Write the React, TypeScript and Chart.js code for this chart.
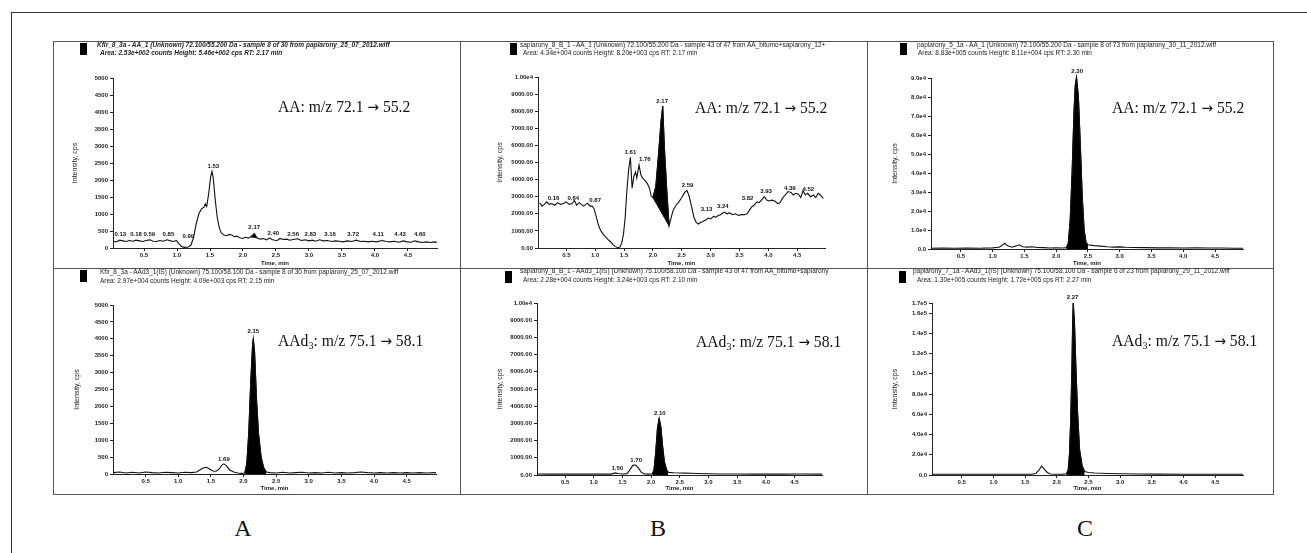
import React, { useEffect, useRef } from "react";
import { Chart, registerables } from "chart.js";

Chart.register(...registerables);

type Pair = [number, number];
type PeakLabel = [string, number, number];

// ---------- axis ticks ----------
const xTicks = [0.5, 1.0, 1.5, 2.0, 2.5, 3.0, 3.5, 4.0, 4.5];
const xTickLabels = ["0.5", "1.0", "1.5", "2.0", "2.5", "3.0", "3.5", "4.0", "4.5"];

const yTicksA = [0, 500, 1000, 1500, 2000, 2500, 3000, 3500, 4000, 4500, 5000];
const yTickLabelsA = ["0", "500", "1000", "1500", "2000", "2500", "3000", "3500", "4000", "4500", "5000"];

const yTicksB = [0, 1000, 2000, 3000, 4000, 5000, 6000, 7000, 8000, 9000, 10000];
const yTickLabelsB = ["0.00", "1000.00", "2000.00", "3000.00", "4000.00", "5000.00", "6000.00", "7000.00", "8000.00", "9000.00", "1.00e4"];

const yTicksC1 = [0, 10000, 20000, 30000, 40000, 50000, 60000, 70000, 80000, 90000];
const yTickLabelsC1 = ["0.0", "1.0e4", "2.0e4", "3.0e4", "4.0e4", "5.0e4", "6.0e4", "7.0e4", "8.0e4", "9.0e4"];

const yTicksC2 = [0, 20000, 40000, 60000, 80000, 100000, 120000, 140000, 160000, 170000];
const yTickLabelsC2 = ["0.0", "2.0e4", "4.0e4", "6.0e4", "8.0e4", "1.0e5", "1.2e5", "1.4e5", "1.6e5", "1.7e5"];

// ---------- traces (time min, intensity cps) ----------
const traceA1: Pair[] = [
  [0.03, 200], [0.08, 180], [0.13, 230], [0.18, 210], [0.23, 190], [0.28, 220], [0.33, 200], [0.38, 230],
  [0.43, 210], [0.48, 190], [0.53, 220], [0.59, 240], [0.64, 200], [0.69, 190], [0.74, 220], [0.79, 200],
  [0.85, 240], [0.90, 210], [0.95, 190], [0.99, 220], [1.03, 120], [1.07, 40], [1.12, 20], [1.17, 30],
  [1.21, 80], [1.25, 300], [1.29, 700], [1.33, 1000], [1.37, 1150], [1.41, 1200], [1.43, 1300], [1.45, 1220],
  [1.48, 1600], [1.51, 2100], [1.53, 2250], [1.55, 2050], [1.58, 1400], [1.61, 900], [1.64, 600], [1.67, 450],
  [1.71, 380], [1.75, 360], [1.79, 400], [1.83, 380], [1.87, 330], [1.91, 350], [1.95, 300], [2.00, 280],
  [2.04, 320], [2.08, 290], [2.12, 330], [2.17, 420], [2.21, 300], [2.26, 260], [2.31, 280], [2.36, 240],
  [2.40, 300], [2.44, 250], [2.48, 230], [2.52, 220], [2.56, 280], [2.61, 250], [2.66, 260], [2.71, 230],
  [2.76, 250], [2.83, 270], [2.88, 220], [2.94, 240], [3.00, 210], [3.05, 230], [3.10, 200], [3.16, 240],
  [3.22, 210], [3.28, 220], [3.34, 190], [3.40, 210], [3.46, 200], [3.52, 180], [3.58, 210], [3.65, 190],
  [3.72, 230], [3.78, 190], [3.84, 200], [3.90, 180], [3.96, 200], [4.02, 180], [4.11, 220], [4.17, 190],
  [4.23, 180], [4.29, 200], [4.36, 170], [4.43, 210], [4.49, 180], [4.55, 170], [4.60, 210], [4.66, 180],
  [4.72, 160], [4.78, 180], [4.84, 160], [4.90, 180], [4.94, 170],
];
const labelsA1: PeakLabel[] = [
  ["0.13", 0.14, 392], ["0.18", 0.38, 392], ["0.59", 0.58, 392], ["0.85", 0.87, 392], ["0.99", 1.17, 343],
  ["1.53", 1.55, 2400], ["2.17", 2.17, 608], ["2.40", 2.46, 441], ["2.56", 2.76, 392], ["2.83", 3.02, 392],
  ["3.16", 3.32, 392], ["3.72", 3.67, 392], ["4.11", 4.05, 392], ["4.43", 4.38, 392], ["4.60", 4.68, 392],
];

const traceB1: Pair[] = [
  [0.04, 2650], [0.08, 2450], [0.12, 2550], [0.16, 2700], [0.20, 2550], [0.25, 2600], [0.30, 2500], [0.35, 2650],
  [0.40, 2550], [0.45, 2600], [0.50, 2700], [0.55, 2550], [0.60, 2600], [0.64, 2780], [0.68, 2500], [0.72, 2650],
  [0.76, 2550], [0.80, 2450], [0.84, 2550], [0.87, 2620], [0.91, 2450], [0.95, 2450], [0.98, 2300], [1.02, 1800],
  [1.06, 1300], [1.10, 1000], [1.14, 800], [1.18, 650], [1.22, 500], [1.27, 350], [1.31, 200], [1.35, 80],
  [1.39, 20], [1.43, 60], [1.46, 300], [1.49, 800], [1.52, 1800], [1.55, 3400], [1.58, 4600], [1.61, 5300],
  [1.64, 3500], [1.67, 4200], [1.70, 4450], [1.72, 4100], [1.76, 4850], [1.79, 4300], [1.82, 4100], [1.86, 3950],
  [1.90, 3800], [1.94, 3500], [1.97, 3050], [2.00, 2950], [2.05, 3600], [2.10, 5600], [2.14, 7400], [2.17, 8300],
  [2.20, 5800], [2.24, 3400], [2.28, 1300], [2.31, 1700], [2.35, 2200], [2.40, 2500], [2.45, 2700], [2.50, 2950],
  [2.55, 3250], [2.59, 3370], [2.63, 3000], [2.67, 2400], [2.71, 1800], [2.75, 1500], [2.79, 1400], [2.83, 1500],
  [2.87, 1550], [2.92, 1650], [2.96, 1750], [3.00, 1700], [3.05, 1850], [3.09, 1800], [3.13, 1900], [3.17, 1950],
  [3.21, 2050], [3.24, 2100], [3.28, 2000], [3.33, 2050], [3.38, 1950], [3.43, 2000], [3.48, 1900], [3.53, 1950],
  [3.58, 1950], [3.63, 2000], [3.67, 2200], [3.71, 2400], [3.75, 2500], [3.80, 2700], [3.84, 2650], [3.88, 2800],
  [3.93, 3000], [3.97, 2800], [4.01, 2750], [4.06, 2800], [4.11, 2750], [4.16, 2600], [4.20, 2650], [4.24, 2900],
  [4.29, 3100], [4.34, 3300], [4.39, 3250], [4.43, 3100], [4.47, 3200], [4.52, 3150], [4.56, 2950], [4.60, 3350],
  [4.64, 3100], [4.68, 3200], [4.73, 3000], [4.78, 3100], [4.82, 2950], [4.86, 3200], [4.90, 3100], [4.95, 2900],
];
const labelsB1: PeakLabel[] = [
  ["0.16", 0.28, 2924], ["0.64", 0.62, 2924], ["0.87", 1.0, 2790], ["1.61", 1.61, 5614], ["1.76", 1.86, 5166],
  ["2.17", 2.16, 8577], ["2.59", 2.6, 3665], ["3.13", 2.93, 2242], ["3.24", 3.21, 2437], ["3.82", 3.64, 2924],
  ["3.93", 3.96, 3314], ["4.39", 4.37, 3509], ["4.52", 4.69, 3411],
];

const traceC1: Pair[] = [
  [0.03, 400], [0.2, 500], [0.4, 400], [0.6, 500], [0.8, 400], [1.0, 600], [1.1, 900], [1.15, 2000],
  [1.19, 3000], [1.23, 1800], [1.3, 900], [1.36, 1500], [1.42, 2200], [1.47, 1200], [1.55, 1000], [1.62, 1200],
  [1.7, 800], [1.8, 700], [1.9, 500], [2.0, 600], [2.1, 500], [2.16, 700], [2.19, 3000], [2.22, 15000],
  [2.25, 40000], [2.28, 72000], [2.30, 86000], [2.32, 90500], [2.35, 80000], [2.38, 55000], [2.41, 28000],
  [2.44, 10000], [2.47, 3500], [2.5, 2200], [2.6, 1800], [2.7, 1500], [2.8, 1200], [2.9, 1000], [3.0, 1100],
  [3.1, 900], [3.2, 800], [3.4, 700], [3.6, 600], [3.8, 600], [4.0, 500], [4.2, 600], [4.4, 500], [4.6, 500],
  [4.8, 400], [4.94, 400],
];
const labelsC1: PeakLabel[] = [["2.30", 2.33, 93500]];

const traceA2: Pair[] = [
  [0.0, 40], [0.1, 60], [0.2, 30], [0.3, 50], [0.4, 30], [0.5, 60], [0.6, 40], [0.7, 30], [0.8, 50],
  [0.9, 40], [1.0, 30], [1.1, 50], [1.2, 40], [1.28, 60], [1.33, 120], [1.38, 180], [1.43, 200], [1.48, 150],
  [1.53, 90], [1.58, 80], [1.63, 150], [1.67, 270], [1.70, 300], [1.74, 240], [1.79, 120], [1.85, 60],
  [1.91, 30], [1.97, 20], [2.02, 30], [2.05, 300], [2.08, 1200], [2.11, 2700], [2.14, 3850], [2.15, 4000],
  [2.17, 3600], [2.20, 2200], [2.23, 1200], [2.27, 500], [2.31, 180], [2.35, 60], [2.4, 40], [2.5, 30],
  [2.6, 50], [2.7, 30], [2.8, 40], [2.9, 50], [3.0, 30], [3.1, 40], [3.2, 30], [3.3, 50], [3.4, 30],
  [3.5, 40], [3.6, 30], [3.7, 40], [3.8, 60], [3.9, 40], [4.0, 30], [4.1, 40], [4.2, 30], [4.3, 40],
  [4.4, 30], [4.5, 40], [4.6, 30], [4.7, 40], [4.8, 30], [4.95, 40],
];
const labelsA2: PeakLabel[] = [["1.69", 1.70, 444], ["2.15", 2.15, 4210]];

const traceB2: Pair[] = [
  [0.01, 60], [0.2, 50], [0.4, 60], [0.6, 50], [0.8, 60], [1.0, 50], [1.2, 60], [1.3, 50], [1.38, 120],
  [1.42, 90], [1.5, 60], [1.58, 80], [1.63, 300], [1.68, 560], [1.73, 580], [1.78, 400], [1.83, 150],
  [1.88, 60], [1.95, 50], [2.02, 60], [2.05, 300], [2.08, 1300], [2.11, 2700], [2.14, 3300], [2.17, 2800],
  [2.20, 1700], [2.23, 800], [2.27, 300], [2.3, 150], [2.4, 130], [2.5, 120], [2.6, 110], [2.7, 100],
  [2.8, 90], [3.0, 70], [3.2, 60], [3.5, 60], [3.8, 50], [4.0, 60], [4.3, 50], [4.6, 60], [4.98, 50],
];
const labelsB2: PeakLabel[] = [["1.50", 1.41, 390], ["1.70", 1.74, 872], ["2.10", 2.15, 3587]];

const traceC2: Pair[] = [
  [0.03, 800], [0.3, 700], [0.6, 800], [0.9, 700], [1.2, 800], [1.5, 700], [1.6, 800], [1.67, 1500],
  [1.72, 5000], [1.76, 8800], [1.80, 6000], [1.85, 2500], [1.9, 1000], [2.0, 800], [2.1, 900], [2.15, 1200],
  [2.18, 5000], [2.20, 20000], [2.22, 55000], [2.24, 110000], [2.25, 150000], [2.26, 170000], [2.28, 150000],
  [2.30, 110000], [2.33, 60000], [2.36, 25000], [2.40, 9000], [2.44, 3500], [2.5, 2500], [2.6, 2000],
  [2.8, 1500], [3.0, 1200], [3.3, 1000], [3.6, 900], [4.0, 800], [4.4, 800], [4.94, 700],
];
const labelsC2: PeakLabel[] = [["2.27", 2.25, 176000]];

// ---------- texts ----------
const headerLines1 = [
  "Kfir_8_3a - AA_1 (Unknown) 72.100/55.200 Da - sample 8 of 30 from paplarony_25_07_2012.wiff",
  "sapiarony_8_B_1 - AA_1 (Unknown) 72.100/55.200 Da - sample 43 of 47 from AA_bitumo+sapiarony_12+",
  "paplarony_5_1a - AA_1 (Unknown) 72.100/55.200 Da - sample 8 of 73 from paplarony_30_11_2012.wiff",
  "Kfir_8_3a - AAd3_1(IS) (Unknown) 75.100/58.100 Da - sample 8 of 30 from paplarony_25_07_2012.wiff",
  "sapiarony_8_B_1 - AAd3_1(IS) (Unknown) 75.100/58.100 Da - sample 43 of 47 from AA_bitumo+sapiarony",
  "paplarony_7_1a - AAd3_1(IS) (Unknown) 75.100/58.100 Da - sample 6 of 23 from paplarony_29_11_2012.wiff",
];
const headerLines2 = [
  "Area: 2.53e+002 counts  Height: 5.46e+002 cps  RT: 2.17 min",
  "Area: 4.34e+004 counts  Height: 8.20e+003 cps  RT: 2.17 min",
  "Area: 8.83e+005 counts  Height: 8.11e+004 cps  RT: 2.30 min",
  "Area: 2.97e+004 counts  Height: 4.09e+003 cps  RT: 2.15 min",
  "Area: 2.28e+004 counts  Height: 3.24e+003 cps  RT: 2.10 min",
  "Area: 1.30e+005 counts  Height: 1.72e+005 cps  RT: 2.27 min",
];
const panelLetters = ["A", "B", "C"];

// ---------- panel layout ----------
type PanelDef = {
  left: number; top: number; w: number; h: number;
  padL: number; padT: number; padR: number; padB: number; yW: number; xH: number;
  xMin: number; xMax: number; yMax: number;
  yTicks: number[]; yLabels: string[];
  trace: Pair[]; win: [number, number]; fillMode: "shape" | "origin"; labels: PeakLabel[];
  hdr: { sq: [number, number]; l1: [number, number]; l2: [number, number]; bold: boolean };
  ann: { x: number; cy: number; sub: boolean };
};

const panels: PanelDef[] = [
  { left: 53, top: 41, w: 407, h: 228, padL: 18, padT: 37, padR: 23, padB: 1, yW: 42, xH: 20,
    xMin: 0.03, xMax: 4.94, yMax: 5000, yTicks: yTicksA, yLabels: yTickLabelsA,
    trace: traceA1, win: [2.12, 2.21], fillMode: "shape", labels: labelsA1,
    hdr: { sq: [80, 43], l1: [97, 41], l2: [100, 49], bold: true }, ann: { x: 278, cy: 107, sub: false } },
  { left: 460, top: 41, w: 407, h: 228, padL: 36, padT: 36, padR: 42, padB: 1, yW: 42, xH: 20,
    xMin: 0.01, xMax: 4.98, yMax: 10000, yTicks: yTicksB, yLabels: yTickLabelsB,
    trace: traceB1, win: [2.0, 2.28], fillMode: "shape", labels: labelsB1,
    hdr: { sq: [510, 43], l1: [520, 41], l2: [523, 49], bold: false }, ann: { x: 695, cy: 108, sub: false } },
  { left: 867, top: 41, w: 406, h: 228, padL: 24, padT: 37, padR: 30, padB: 1, yW: 40, xH: 19,
    xMin: 0.03, xMax: 4.94, yMax: 90000, yTicks: yTicksC1, yLabels: yTickLabelsC1,
    trace: traceC1, win: [2.16, 2.5], fillMode: "origin", labels: labelsC1,
    hdr: { sq: [900, 43], l1: [917, 41], l2: [918, 49], bold: false }, ann: { x: 1112, cy: 108, sub: false } },
  { left: 53, top: 269, w: 407, h: 225, padL: 20, padT: 36, padR: 24, padB: 1, yW: 40, xH: 19,
    xMin: 0.0, xMax: 4.95, yMax: 5000, yTicks: yTicksA, yLabels: yTickLabelsA,
    trace: traceA2, win: [2.02, 2.35], fillMode: "origin", labels: labelsA2,
    hdr: { sq: [80, 270], l1: [100, 268], l2: [100, 277], bold: false }, ann: { x: 278, cy: 341, sub: true } },
  { left: 460, top: 269, w: 407, h: 225, padL: 36, padT: 34, padR: 45, padB: 1, yW: 41, xH: 18,
    xMin: 0.01, xMax: 4.98, yMax: 10000, yTicks: yTicksB, yLabels: yTickLabelsB,
    trace: traceB2, win: [2.02, 2.3], fillMode: "origin", labels: labelsB2,
    hdr: { sq: [505, 271], l1: [520, 267], l2: [523, 276], bold: false }, ann: { x: 696, cy: 342, sub: true } },
  { left: 867, top: 269, w: 406, h: 225, padL: 24, padT: 34, padR: 30, padB: 1, yW: 41, xH: 18,
    xMin: 0.03, xMax: 4.94, yMax: 170000, yTicks: yTicksC2, yLabels: yTickLabelsC2,
    trace: traceC2, win: [2.15, 2.44], fillMode: "origin", labels: labelsC2,
    hdr: { sq: [899, 271], l1: [913, 267], l2: [917, 276], bold: false }, ann: { x: 1112, cy: 341, sub: true } },
];

const SANS = "'Liberation Sans', Arial, sans-serif";
const SERIF = "'Liberation Serif', 'Times New Roman', serif";
const tickFont = { family: SANS, size: 6, weight: "bold" as const };

const peakLabelPlugin = {
  id: "peakLabels",
  afterDatasetsDraw(chart: any, _args: any, opts: any) {
    const { ctx, scales } = chart;
    const xs = scales.x;
    const ys = scales.y;
    ctx.save();
    ctx.font = `bold 6px ${SANS}`;
    ctx.fillStyle = "#111";
    ctx.textAlign = "center";
    ctx.textBaseline = "middle";
    for (const [t, xv, yv] of (opts.items || []) as PeakLabel[]) {
      ctx.fillText(t, xs.getPixelForValue(xv), ys.getPixelForValue(yv));
    }
    ctx.restore();
  },
};

function Panel({ p }: { p: PanelDef }) {
  const ref = useRef<HTMLCanvasElement | null>(null);
  useEffect(() => {
    const canvas = ref.current;
    if (!canvas) return;
    const fillPts = p.trace.filter(([t]) => t >= p.win[0] - 1e-9 && t <= p.win[1] + 1e-9);
    const fillData = (p.fillMode === "shape" ? [...fillPts, fillPts[0]] : fillPts).map(([x, y]) => ({ x, y }));
    const chart = new Chart(canvas, {
      type: "line",
      data: {
        datasets: [
          {
            data: p.trace.map(([x, y]) => ({ x, y })),
            borderColor: "#111",
            borderWidth: 1.1,
            pointRadius: 0,
            fill: false,
            tension: 0,
            clip: false as any,
          },
          {
            data: fillData,
            borderColor: "#000",
            backgroundColor: "#000",
            borderWidth: 1,
            pointRadius: 0,
            fill: p.fillMode as any,
            tension: 0,
            clip: false as any,
          },
        ],
      },
      options: {
        responsive: false,
        animation: false,
        devicePixelRatio: 1,
        events: [],
        layout: { padding: { left: p.padL, top: p.padT, right: p.padR, bottom: p.padB } },
        plugins: {
          legend: { display: false },
          tooltip: { enabled: false },
          peakLabels: { items: p.labels },
        } as any,
        scales: {
          x: {
            type: "linear",
            min: p.xMin,
            max: p.xMax,
            afterBuildTicks: (s: any) => {
              s.ticks = xTicks.map((v) => ({ value: v }));
            },
            afterFit: (s: any) => {
              s.height = p.xH;
            },
            ticks: {
              autoSkip: false,
              maxRotation: 0,
              minRotation: 0,
              padding: 1,
              font: tickFont,
              color: "#222",
              callback: (_v: any, i: number) => xTickLabels[i],
            },
            grid: { drawOnChartArea: false, drawTicks: true, tickLength: 3, color: "#222", lineWidth: 1 },
            border: { display: true, color: "#222", width: 1 },
            title: { display: true, text: "Time, min", font: { family: SANS, size: 6, weight: "bold" }, color: "#222", padding: { top: 0, bottom: 1 } },
          },
          y: {
            type: "linear",
            min: 0,
            max: p.yMax,
            afterBuildTicks: (s: any) => {
              s.ticks = p.yTicks.map((v) => ({ value: v }));
            },
            afterFit: (s: any) => {
              s.width = p.yW;
            },
            ticks: {
              autoSkip: false,
              padding: 2,
              font: tickFont,
              color: "#222",
              callback: (_v: any, i: number) => p.yLabels[i],
            },
            grid: { drawOnChartArea: false, drawTicks: true, tickLength: 3, color: "#222", lineWidth: 1 },
            border: { display: true, color: "#222", width: 1 },
            title: { display: true, text: "Intensity, cps", font: { family: SANS, size: 7 }, color: "#222", padding: { top: 0, bottom: 0 } },
          },
        },
      } as any,
      plugins: [peakLabelPlugin],
    });
    return () => chart.destroy();
  }, [p]);
  return (
    <canvas
      ref={ref}
      width={p.w}
      height={p.h}
      style={{ position: "absolute", left: p.left, top: p.top, width: p.w, height: p.h }}
    />
  );
}

function Header({ p, i }: { p: PanelDef; i: number }) {
  const base: React.CSSProperties = {
    position: "absolute",
    fontFamily: SANS,
    fontSize: 6.5,
    lineHeight: "8px",
    whiteSpace: "nowrap",
    color: "#222",
    fontWeight: p.hdr.bold ? "bold" : "normal",
    fontStyle: p.hdr.bold ? "italic" : "normal",
  };
  return (
    <>
      <div style={{ position: "absolute", left: p.hdr.sq[0], top: p.hdr.sq[1], width: 7, height: 12, background: "#000" }} />
      <div style={{ ...base, left: p.hdr.l1[0], top: p.hdr.l1[1] }}>{headerLines1[i]}</div>
      <div style={{ ...base, left: p.hdr.l2[0], top: p.hdr.l2[1] }}>{headerLines2[i]}</div>
    </>
  );
}

const arrowStyle: React.CSSProperties = { fontFamily: "'DejaVu Sans', sans-serif", fontSize: 15 };

function Annotation({ p }: { p: PanelDef }) {
  return (
    <div
      style={{
        position: "absolute",
        left: p.ann.x,
        top: p.ann.cy - 10,
        fontFamily: SERIF,
        fontSize: 17,
        lineHeight: "20px",
        whiteSpace: "nowrap",
        color: "#111",
        transform: "scaleX(0.92)",
        transformOrigin: "left center",
      }}
    >
      {p.ann.sub ? (
        <>
          AAd<span style={{ fontSize: 11, verticalAlign: -3 }}>3</span>: m/z 75.1 <span style={arrowStyle}>→</span> 58.1
        </>
      ) : (
        <>
          AA: m/z 72.1 <span style={arrowStyle}>→</span> 55.2
        </>
      )}
    </div>
  );
}

export default function App() {
  const line = "#555";
  return (
    <div style={{ position: "absolute", left: 0, top: 0, width: 1307, height: 553, background: "#fff", overflow: "hidden" }}>
      {/* outer frame */}
      <div style={{ position: "absolute", left: 11, top: 12, width: 1296, height: 1, background: "#333" }} />
      <div style={{ position: "absolute", left: 11, top: 12, width: 1, height: 541, background: "#333" }} />
      {/* panel grid */}
      <div style={{ position: "absolute", left: 53, top: 41, width: 1219, height: 452, border: `1px solid ${line}` }} />
      <div style={{ position: "absolute", left: 460, top: 41, width: 1, height: 453, background: line }} />
      <div style={{ position: "absolute", left: 867, top: 41, width: 1, height: 453, background: line }} />
      <div style={{ position: "absolute", left: 53, top: 268, width: 1220, height: 1, background: line }} />
      {panels.map((p, i) => (
        <React.Fragment key={i}>
          <Panel p={p} />
          <Header p={p} i={i} />
          <Annotation p={p} />
        </React.Fragment>
      ))}
      {panelLetters.map((l, i) => (
        <div
          key={l}
          style={{
            position: "absolute",
            left: [243, 658, 1085][i] - 20,
            width: 40,
            top: 514,
            textAlign: "center",
            fontFamily: SERIF,
            fontSize: 24,
            lineHeight: "28px",
            color: "#111",
          }}
        >
          {l}
        </div>
      ))}
    </div>
  );
}
